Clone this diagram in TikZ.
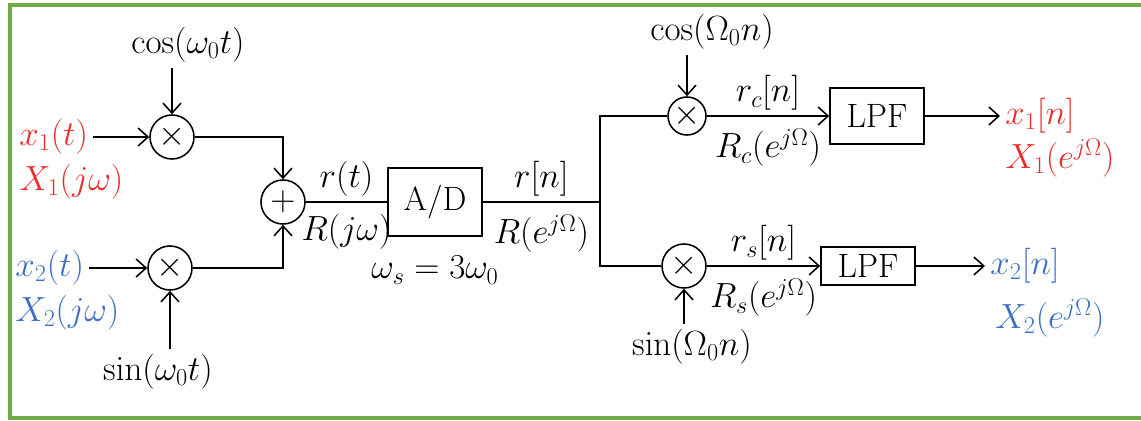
\documentclass[tikz,border=0pt]{standalone}
\usetikzlibrary{arrows.meta,positioning,calc}
\definecolor{frame}{RGB}{112,173,71}
\definecolor{sigred}{RGB}{235,45,45}
\definecolor{sigblue}{RGB}{60,110,200}

\begin{document}
\begin{tikzpicture}[
  x=0.025cm, y=-0.025cm,
  >={Straight Barb[length=2.5mm,width=4.5mm]}, line width=1.1pt,
  every node/.style={font=\fontsize{24}{28}\selectfont},
  mixer/.style={draw, circle, minimum size=1.1cm, inner sep=0pt,
    font=\fontsize{30}{30}\selectfont},
  block/.style={draw, minimum width=2.35cm, minimum height=1.4cm},
  under/.style={below=5pt},
]
\useasboundingbox (0,0) rectangle (1141,420);
\draw[frame, line width=3pt] (1141,5) -- (10,5) -- (10,418) -- (1141,418);

% modulator
\node[anchor=west, text=sigred] (x1) at (14,137) {$x_1(t)$};
\node[anchor=west, text=sigred] (X1) at (14,182) {$X_1(j\omega)$};
\node[anchor=west, text=sigblue] (x2) at (10,268) {$x_2(t)$};
\node[anchor=west, text=sigblue] (X2) at (10,313) {$X_2(j\omega)$};
\node[mixer] (mul1) at (172,137) {$\times$};
\node[mixer] (mul2) at (170,268) {$\times$};
\node (cos1) at (188,45) {$\cos(\omega_0 t)$};
\node (sin1) at (158,372) {$\sin(\omega_0 t)$};
\draw[->] (x1) -- (mul1);
\draw[->] (x2) -- (mul2);
\draw[->] (mul1 |- cos1.south) -- (mul1);
\draw[->] (mul2 |- sin1.north) -- (mul2);

\node[mixer] (add) at (283,202) {$+$};
\draw[->] (mul1) -| (add);
\draw[->] (mul2) -| (add);

\node[block, minimum height=1.7cm] (adc) at (435,202) {A/D};
\node[below=10pt of adc] (fs) {$\omega_s = 3\omega_0$};
\draw (add) -- node[above] {$r(t)$} node[under] {$R(j\omega)$} (adc);

% demodulator
\coordinate (br) at (600,202);
\draw (adc) -- node[above] {$r[n]$} node[under] {$R(e^{j\Omega})$} (br);
\node[mixer, minimum size=0.95cm] (mulc) at (687,116) {$\times$};
\node[mixer] (muls) at (684,266) {$\times$};
\draw (br) |- (mulc);
\draw (br) |- (muls);
\node (cos2) at (712,32) {$\cos(\Omega_0 n)$};
\node (sin2) at (692,347) {$\sin(\Omega_0 n)$};
\draw[->] (mulc |- cos2.south) -- (mulc);
\draw[->] (muls |- sin2.north) -- (muls);

\node[block] (lpfc) at (877,116) {LPF};
\node[block, minimum height=0.95cm] (lpfs) at (868,266) {LPF};
\draw[->] (mulc) -- node[above] {$r_c[n]$} node[under] {$R_c(e^{j\Omega})$} (lpfc);
\draw[->] (muls) -- node[above] {$r_s[n]$} node[under] {$R_s(e^{j\Omega})$} (lpfs);

\node[anchor=west, text=sigred] (y1) at (1000,116) {$x_1[n]$};
\node[anchor=west, text=sigred] (Y1) at (1000,158) {$X_1(e^{j\Omega})$};
\node[anchor=west, text=sigblue] (y2) at (985,266) {$x_2[n]$};
\node[anchor=west, text=sigblue] (Y2) at (990,318) {$X_2(e^{j\Omega})$};
\draw[->] (lpfc) -- (y1);
\draw[->] (lpfs) -- (y2);
\end{tikzpicture}
\end{document}
